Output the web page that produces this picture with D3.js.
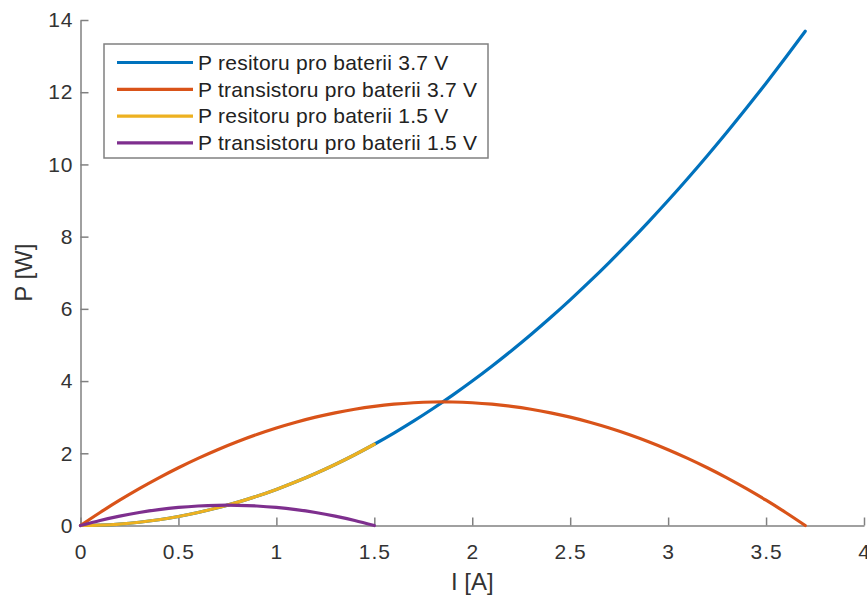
<html>
<head>
  <script src="https://d3js.org/d3.v7.min.js"></script>
  <style>
    body { margin: 0; background: #fff; }
    text { font-family: 'Liberation Sans', Arial, sans-serif; }
  </style>
</head>
<body>
  <script>

    // current samples [A]
    var current37 = [0,0.1,0.2,0.3,0.4,0.5,0.6,0.7,0.8,0.9,1.0,1.1,1.2,1.3,1.4,1.5,1.6,1.7,1.8,1.9,
                     2.0,2.1,2.2,2.3,2.4,2.5,2.6,2.7,2.8,2.9,3.0,3.1,3.2,3.3,3.4,3.5,3.6,3.7];
    var current15 = [0,0.1,0.2,0.3,0.4,0.5,0.6,0.7,0.8,0.9,1.0,1.1,1.2,1.3,1.4,1.5];

    // power [W]
    var pRes37 = [0,0.01,0.04,0.09,0.16,0.25,0.36,0.49,0.64,0.81,1.00,1.21,1.44,1.69,1.96,2.25,2.56,2.89,3.24,3.61,
                  4.00,4.41,4.84,5.29,5.76,6.25,6.76,7.29,7.84,8.41,9.00,9.61,10.24,10.89,11.56,12.25,12.96,13.69];
    var pTr37 = [0,0.36,0.70,1.02,1.32,1.60,1.86,2.10,2.32,2.52,2.70,2.86,3.00,3.12,3.22,3.30,3.36,3.40,3.42,3.42,
                 3.40,3.36,3.30,3.22,3.12,3.00,2.86,2.70,2.52,2.32,2.10,1.86,1.60,1.32,1.02,0.70,0.36,0];
    var pRes15 = [0,0.01,0.04,0.09,0.16,0.25,0.36,0.49,0.64,0.81,1.00,1.21,1.44,1.69,1.96,2.25];
    var pTr15 = [0,0.14,0.26,0.36,0.44,0.50,0.54,0.56,0.56,0.54,0.50,0.44,0.36,0.26,0.14,0];

    var names = ['P resitoru pro baterii 3.7 V', 'P transistoru pro baterii 3.7 V',
                 'P resitoru pro baterii 1.5 V', 'P transistoru pro baterii 1.5 V'];
    var colors = ['#0072BD', '#D95319', '#EDB120', '#7E2F8E'];

    var xTicks = [0,0.5,1,1.5,2,2.5,3,3.5,4];
    var yTicks = [0,2,4,6,8,10,12,14];

    var series = [
      { x: current37, y: pRes37 },
      { x: current37, y: pTr37 },
      { x: current15, y: pRes15 },
      { x: current15, y: pTr15 }
    ];

    var width = 867,
        height = 599;

    var svg = d3.select('body')
      .append('svg')
      .attr('width', width)
      .attr('height', height);

    var x = d3.scaleLinear().domain([0, 4]).range([80.5, 864]);
    var y = d3.scaleLinear().domain([0, 14]).range([525.5, 20]);

    var axisColor = '#808080';

    // axes, ticks pointing inward like matlab
    var gx = svg.append('g')
      .attr('transform', 'translate(0,' + y(0) + ')')
      .call(d3.axisBottom(x).tickValues(xTicks).tickSizeInner(-8).tickSizeOuter(0)
        .tickPadding(18.5).tickFormat(d3.format('')));
    var gy = svg.append('g')
      .attr('transform', 'translate(' + x(0) + ',0)')
      .call(d3.axisLeft(y).tickValues(yTicks).tickSizeInner(-8).tickSizeOuter(0)
        .tickPadding(7).tickFormat(d3.format('')));

    [gx, gy].forEach(function(g) {
      g.select('.domain').attr('stroke', axisColor).attr('stroke-width', 1.5);
      g.selectAll('.tick line').attr('stroke', axisColor).attr('stroke-width', 1.5);
      g.selectAll('.tick text').attr('fill', '#333')
        .style('font-size', '21px')
        .style('letter-spacing', '1px')
        .style('font-family', "'Liberation Sans', Arial, sans-serif");
    });

    // lines
    var line = d3.line()
      .x(function(d) { return x(d[0]); })
      .y(function(d) { return y(d[1]); })
      .curve(d3.curveCatmullRom);

    svg.append('g').selectAll('path')
      .data(series)
      .enter()
      .append('path')
      .attr('fill', 'none')
      .attr('stroke', function(d, i) { return colors[i]; })
      .attr('stroke-width', 3.2)
      .attr('stroke-linecap', 'round')
      .attr('stroke-linejoin', 'round')
      .attr('d', function(d) {
        return line(d.x.map(function(v, i) { return [v, d.y[i]]; }));
      });

    // axis titles
    svg.append('text')
      .attr('x', (x(0) + x(4)) / 2)
      .attr('y', 590)
      .attr('text-anchor', 'middle')
      .attr('fill', '#333')
      .style('font-size', '24px')
      .text('I [A]');

    svg.append('text')
      .attr('transform', 'translate(32,' + (y(0) + y(14)) / 2 + ') rotate(-90)')
      .attr('text-anchor', 'middle')
      .attr('fill', '#333')
      .style('font-size', '24px')
      .text('P [W]');

    // legend
    var legend = svg.append('g');
    legend.append('rect')
      .attr('x', 104)
      .attr('y', 44)
      .attr('width', 384)
      .attr('height', 114)
      .attr('fill', '#fff')
      .attr('stroke', axisColor)
      .attr('stroke-width', 1.5);

    var rows = legend.selectAll('g.row')
      .data(names)
      .enter()
      .append('g')
      .attr('transform', function(d, i) { return 'translate(0,' + (62.5 + i * 26.8) + ')'; });

    rows.append('line')
      .attr('x1', 117).attr('x2', 193)
      .attr('stroke', function(d, i) { return colors[i]; })
      .attr('stroke-width', 3.2);

    rows.append('text')
      .attr('x', 198)
      .attr('dy', '0.35em')
      .attr('fill', '#222')
      .style('font-size', '21px')
      .style('letter-spacing', '0.25px')
      .text(function(d) { return d; });

  </script>
</body>
</html>
